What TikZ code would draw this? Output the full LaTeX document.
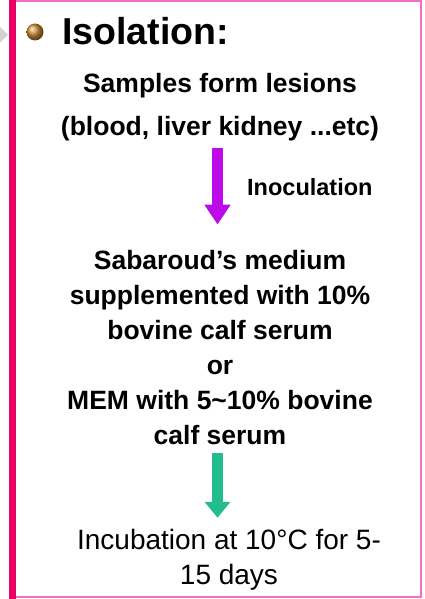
\documentclass[tikz,border=0pt]{standalone}
\usepackage{fontspec}
\setmainfont{Liberation Sans}
\usetikzlibrary{arrows.meta,positioning}
\definecolor{frame}{RGB}{232,0,100}
\definecolor{framepink}{RGB}{240,110,195}
\definecolor{inoc}{RGB}{188,10,232}
\definecolor{incub}{RGB}{35,188,140}
\definecolor{bead}{RGB}{205,140,55}
\tikzset{ steptext/.style={align=center,inner sep=0pt,font=\fontsize{26.5}{35}\selectfont\bfseries},
  flow/.style={line width=11.5pt,-{Triangle[length=20pt,width=25pt]}} }

\begin{document}
\begin{tikzpicture}[x=1pt,y=-1pt]
   \useasboundingbox (0,0) rectangle (425,599);
   \fill[frame] (9,0) rectangle (16,599);
   \draw[framepink,line width=2pt] (16,1) -- (421,1) -- (421,597) -- (16,597);
   \fill[gray!35] (0,27) -- (8,35) -- (0,43) -- cycle;
   \node[circle,shading=ball,ball color=bead,minimum size=17pt,inner sep=0pt] (bead) at (35,32) {};
   \node[anchor=base west,inner sep=0pt,font=\fontsize{37.5}{40}\selectfont\bfseries] (title) at (62,45) {Isolation:};
   \node[steptext,font=\fontsize{26.5}{43}\selectfont\bfseries] (samples) at (220,107) {Samples form lesions\\(blood, liver kidney ...etc)};
   \node[steptext] (medium) at (220,348) {Sabaroud's medium\\supplemented with 10\%\\bovine calf serum\\or\\MEM with 5\textasciitilde10\% bovine\\calf serum};
   \node[steptext,font=\fontsize{28}{35}\selectfont] (incub) at (229,560) {Incubation at 10°C for 5-\\15 days};
   \node[anchor=base west,inner sep=0pt,font=\fontsize{23.5}{25}\selectfont\bfseries] (inoclabel) at (247,195) {Inoculation};
   \draw[flow,inoc,shorten <=6.5pt,shorten >=26pt] ([xshift=-2.5pt]samples.south) -- ([xshift=-2.5pt]medium.north);
   \draw[flow,incub,-{Triangle[length=16pt,width=25pt]},shorten <=8pt,shorten >=11.5pt] ([xshift=-2.5pt]medium.south) -- ([xshift=-2.5pt]medium.south |- incub.north);
  \end{tikzpicture}
\end{document}
